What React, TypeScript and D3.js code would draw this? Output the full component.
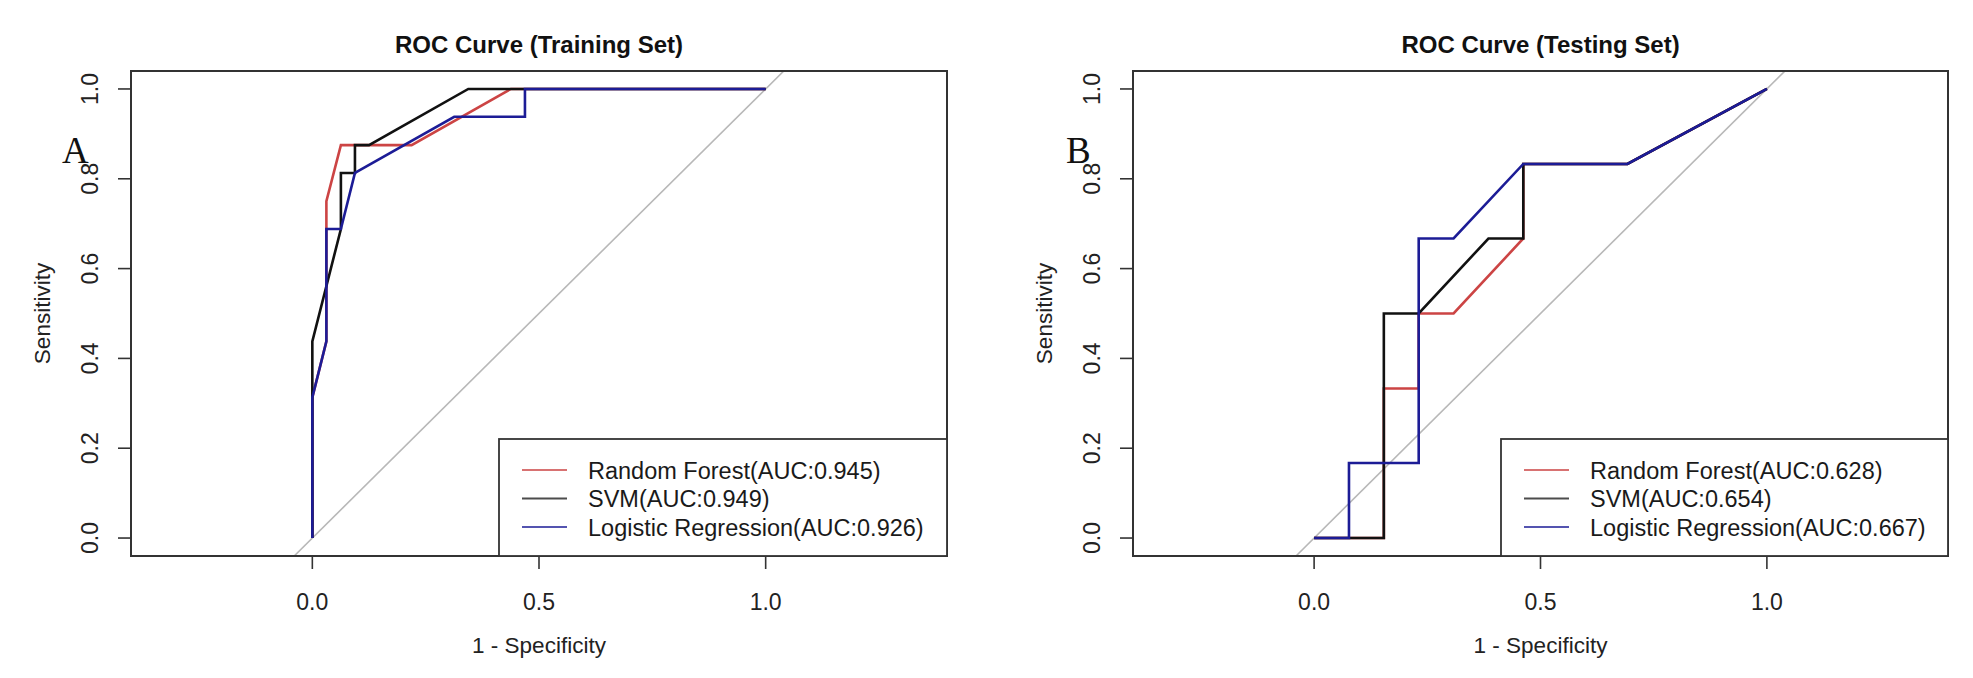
import React from "react";
import * as d3 from "d3";

// ---------- data ----------
const titles = ["ROC Curve (Training Set)", "ROC Curve (Testing Set)"];
const panelTags = ["A", "B"];
const xTicks = [0.0, 0.5, 1.0];
const yTicks = [0.0, 0.2, 0.4, 0.6, 0.8, 1.0];
const seriesNames = ["Random Forest", "SVM", "Logistic Regression"];
const seriesColors = ["#cc4444", "#111111", "#1c1c96"];
const aucTrain = ["0.945", "0.949", "0.926"];
const aucTest = ["0.628", "0.654", "0.667"];

// Training set curves (1 - specificity, sensitivity)
const trainRF_x = [0, 0, 0.031, 0.031, 0.063, 0.219, 0.438, 1];
const trainRF_y = [0, 0.313, 0.438, 0.75, 0.875, 0.875, 1, 1];
const trainSVM_x = [0, 0, 0.063, 0.063, 0.094, 0.094, 0.125, 0.344, 1];
const trainSVM_y = [0, 0.438, 0.688, 0.813, 0.813, 0.875, 0.875, 1, 1];
const trainLR_x = [0, 0, 0.031, 0.031, 0.063, 0.094, 0.313, 0.469, 0.469, 1];
const trainLR_y = [0, 0.313, 0.438, 0.688, 0.688, 0.813, 0.938, 0.938, 1, 1];

// Testing set curves
const testRF_x = [0, 0.154, 0.154, 0.231, 0.231, 0.308, 0.462, 0.462, 0.692, 1];
const testRF_y = [0, 0, 0.333, 0.333, 0.5, 0.5, 0.667, 0.833, 0.833, 1];
const testSVM_x = [0, 0.154, 0.154, 0.231, 0.385, 0.462, 0.462, 0.692, 1];
const testSVM_y = [0, 0, 0.5, 0.5, 0.667, 0.667, 0.833, 0.833, 1];
const testLR_x = [0, 0.077, 0.077, 0.231, 0.231, 0.308, 0.462, 0.692, 1];
const testLR_y = [0, 0, 0.167, 0.167, 0.667, 0.667, 0.833, 0.833, 1];

const xDomain: [number, number] = [-0.4, 1.4];
const yDomain: [number, number] = [-0.04, 1.04];

type Curve = { xs: number[]; ys: number[] };

const panels = [
  {
    left: 131,
    right: 947,
    title: titles[0],
    tag: panelTags[0],
    auc: aucTrain,
    curves: [
      { xs: trainRF_x, ys: trainRF_y },
      { xs: trainSVM_x, ys: trainSVM_y },
      { xs: trainLR_x, ys: trainLR_y },
    ] as Curve[],
  },
  {
    left: 1133,
    right: 1948,
    title: titles[1],
    tag: panelTags[1],
    auc: aucTest,
    curves: [
      { xs: testRF_x, ys: testRF_y },
      { xs: testSVM_x, ys: testSVM_y },
      { xs: testLR_x, ys: testLR_y },
    ] as Curve[],
  },
];

const TOP = 71;
const BOTTOM = 556;
const FONT = "'Liberation Sans', Arial, Helvetica, sans-serif";

function Panel({ p, idx }: { p: (typeof panels)[number]; idx: number }) {
  const x = d3.scaleLinear().domain(xDomain).range([p.left, p.right]);
  const y = d3.scaleLinear().domain(yDomain).range([BOTTOM, TOP]);
  const line = d3
    .line<[number, number]>()
    .x((d) => x(d[0]))
    .y((d) => y(d[1]));
  const diag: [number, number][] = [
    [Math.max(xDomain[0], yDomain[0]), Math.max(xDomain[0], yDomain[0])],
    [Math.min(xDomain[1], yDomain[1]), Math.min(xDomain[1], yDomain[1])],
  ];
  const cx = (p.left + p.right) / 2;
  const legLeft = p.left + 368;
  const legTop = 439;
  const rowY = [470, 498.5, 527];
  const clipId = `clip${idx}`;
  return (
    <g>
      <defs>
        <clipPath id={clipId}>
          <rect x={p.left} y={TOP} width={p.right - p.left} height={BOTTOM - TOP} />
        </clipPath>
      </defs>
      {/* title */}
      <text x={cx} y={53} textAnchor="middle" fontFamily={FONT} fontWeight="bold" fontSize={24} fill="#111">
        {p.title}
      </text>
      {/* diagonal */}
      <g clipPath={`url(#${clipId})`}>
        <path d={line(diag) || ""} stroke="#b8b8b8" strokeWidth={1.6} fill="none" />
        {p.curves.map((c, i) => (
          <path
            key={i}
            d={line(c.xs.map((v, k) => [v, c.ys[k]] as [number, number])) || ""}
            stroke={seriesColors[i]}
            strokeWidth={2.6}
            fill="none"
            strokeLinejoin="miter"
          />
        ))}
      </g>
      {/* box */}
      <rect x={p.left} y={TOP} width={p.right - p.left} height={BOTTOM - TOP} fill="none" stroke="#333" strokeWidth={2} />
      {/* x axis */}
      {xTicks.map((t) => (
        <g key={"x" + t}>
          <line x1={x(t)} x2={x(t)} y1={BOTTOM} y2={BOTTOM + 13} stroke="#333" strokeWidth={1.6} />
          <text x={x(t)} y={610} textAnchor="middle" fontFamily={FONT} fontSize={23} fill="#222">
            {t.toFixed(1)}
          </text>
        </g>
      ))}
      <text x={cx} y={653} textAnchor="middle" fontFamily={FONT} fontSize={22.5} fill="#222">
        1 - Specificity
      </text>
      {/* y axis */}
      {yTicks.map((t) => (
        <g key={"y" + t}>
          <line x1={p.left - 13} x2={p.left} y1={y(t)} y2={y(t)} stroke="#333" strokeWidth={1.6} />
          <text
            transform={`translate(${p.left - 33},${y(t)}) rotate(-90)`}
            textAnchor="middle"
            fontFamily={FONT}
            fontSize={23}
            fill="#222"
          >
            {t.toFixed(1)}
          </text>
        </g>
      ))}
      <text
        transform={`translate(${p.left - 81},${(TOP + BOTTOM) / 2}) rotate(-90)`}
        textAnchor="middle"
        fontFamily={FONT}
        fontSize={22.5}
        fill="#222"
      >
        Sensitivity
      </text>
      {/* legend */}
      <rect x={legLeft} y={legTop} width={p.right - legLeft} height={BOTTOM - legTop} fill="#fff" stroke="#333" strokeWidth={1.8} />
      {seriesNames.map((n, i) => (
        <g key={n}>
          <line x1={legLeft + 23} x2={legLeft + 68} y1={rowY[i]} y2={rowY[i]} stroke={seriesColors[i]} strokeWidth={1.8} opacity={0.75} />
          <text x={legLeft + 89} y={rowY[i] + 8.5} fontFamily={FONT} fontSize={23.5} fill="#1a1a1a">
            {`${n}(AUC:${p.auc[i]})`}
          </text>
        </g>
      ))}
      {/* panel tag */}
      <text x={idx === 0 ? 62 : 1066} y={163} fontFamily="'Liberation Serif', 'Times New Roman', serif" fontSize={37} fill="#111">
        {p.tag}
      </text>
    </g>
  );
}

export default function App() {
  return (
    <svg
      width={1973}
      height={678}
      style={{ position: "absolute", left: 0, top: 0, background: "#fff" }}
      xmlns="http://www.w3.org/2000/svg"
    >
      <rect x={0} y={0} width={1973} height={678} fill="#fff" />
      {panels.map((p, i) => (
        <Panel key={i} p={p} idx={i} />
      ))}
    </svg>
  );
}
